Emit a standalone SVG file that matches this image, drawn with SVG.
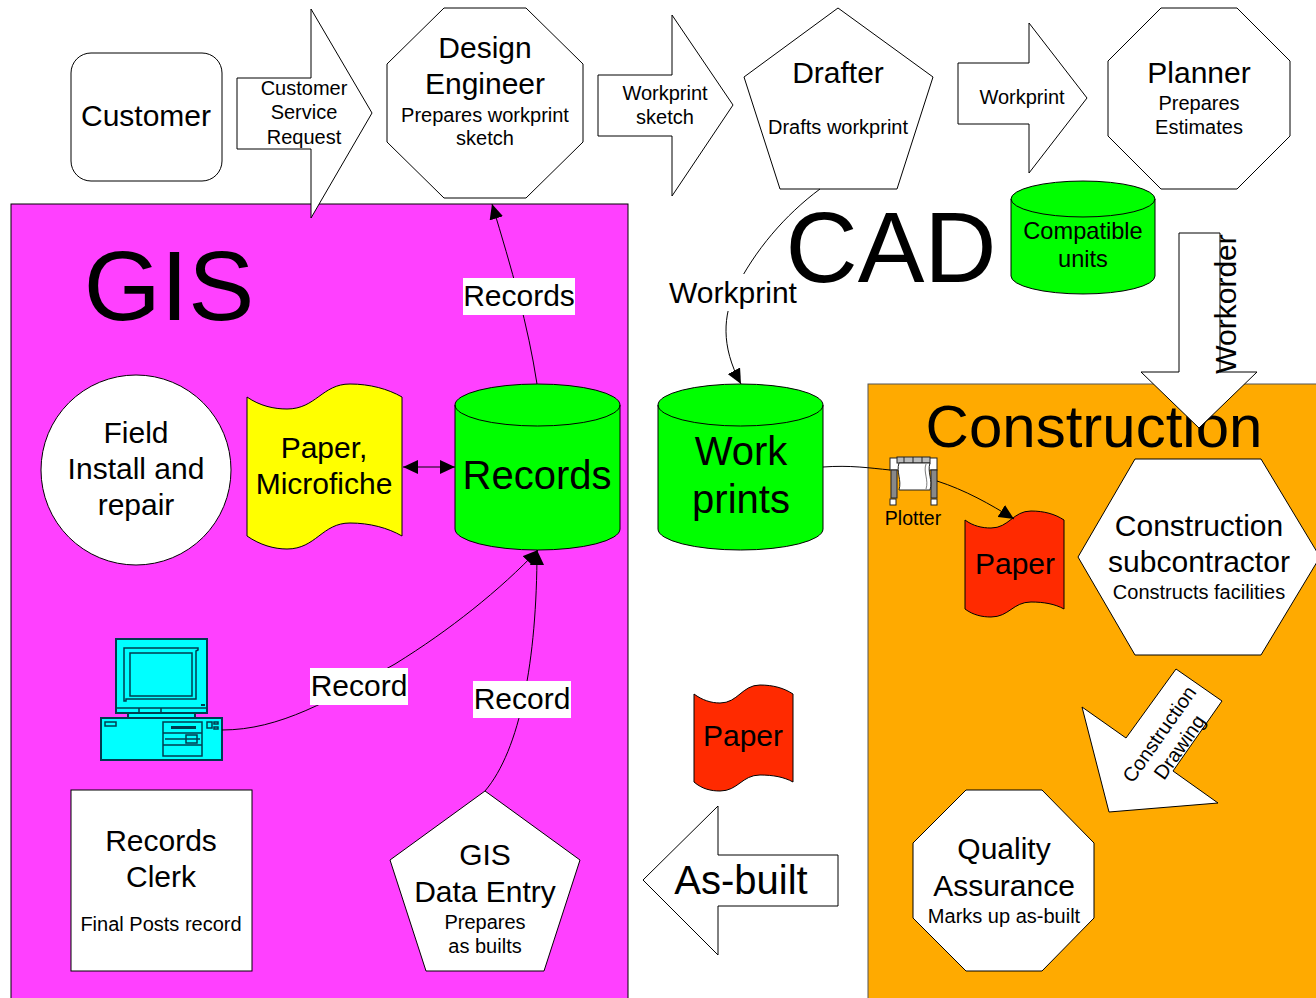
<svg xmlns="http://www.w3.org/2000/svg" width="1316" height="998" viewBox="0 0 1316 998">
<style>
text{font-family:"Liberation Sans",Arial,sans-serif;fill:#000;text-anchor:middle}
.s{stroke:#000;stroke-width:1;stroke-linejoin:miter}
.w{fill:#fff}
.g{fill:#00ff00}
.r{fill:#ff2a00}
.c{fill:none;stroke:#000;stroke-width:1}
.l{fill:#fff;stroke:none}
.t20{font-size:20px}
.t30{font-size:30px}
.p{fill:#00ffff;stroke:#003c50;stroke-width:2}
.q{fill:none;stroke:#003c50;stroke-width:1.5}
.k{stroke:#222;stroke-width:1}
</style>
<defs>
<marker id="a" markerUnits="userSpaceOnUse" markerWidth="16" markerHeight="14" refX="15" refY="7" orient="auto-start-reverse"><path d="M0 0L15 7L0 14Z" fill="#000"/></marker>
</defs>
<rect width="1316" height="998" fill="#fff"/>
<g id="gis-zone"><rect x="11" y="204" width="617" height="800" fill="#ff40ff" stroke="#000"/><text x="169" y="320" font-size="99">GIS</text></g>
<g id="construction-zone"><rect x="868" y="384" width="454" height="620" fill="#ffaa00" stroke="#555"/></g>
<g id="cad-label"><text x="891" y="282" font-size="100">CAD</text></g>
<g id="customer"><rect class="s w" x="71" y="53" width="151" height="128" rx="20"/><text class="t30" x="146" y="126">Customer</text></g>
<g id="customer-service-request"><path class="s w" d="M237 78H311V9L372 113L311 218V149H237Z"/><text class="t20" x="304" y="95">Customer</text><text class="t20" x="304" y="119">Service</text><text class="t20" x="304" y="144">Request</text></g>
<g id="design-engineer"><path class="s w" d="M444 8H526L583 64V142L526 198H444L387 142V64Z"/><text class="t30" x="485" y="58">Design</text><text class="t30" x="485" y="94">Engineer</text><text class="t20" x="485" y="122">Prepares workprint</text><text class="t20" x="485" y="145">sketch</text></g>
<g id="workprint-sketch"><path class="s w" d="M598 75H672V15L733 105L672 196V136H598Z"/><text class="t20" x="665" y="100">Workprint</text><text class="t20" x="665" y="124">sketch</text></g>
<g id="drafter"><path class="s w" d="M838 8L933 77L897 189H780L744 77Z"/><text class="t30" x="838" y="83">Drafter</text><text class="t20" x="838" y="134">Drafts workprint</text></g>
<g id="workprint-arrow"><path class="s w" d="M958 63H1029V23L1087 98L1029 173V124H958Z"/><text class="t20" x="1022" y="104">Workprint</text></g>
<g id="planner"><path class="s w" d="M1161 8H1237L1290 61V136L1237 189H1161L1108 136V61Z"/><text class="t30" x="1199" y="83">Planner</text><text class="t20" x="1199" y="110">Prepares</text><text class="t20" x="1199" y="134">Estimates</text></g>
<g id="compatible-units"><path class="s g" d="M1011 199A72 18 0 0 1 1155 199V276A72 18 0 0 1 1011 276Z"/><path class="s" fill="none" d="M1011 199A72 18 0 0 0 1155 199"/><text font-size="23.6" x="1083" y="239">Compatible</text><text font-size="23.6" x="1083" y="267">units</text></g>
<g id="construction-label"><text x="1094" y="447" font-size="60">Construction</text></g>
<g id="workorder"><path class="s w" d="M1179 233H1220V372H1257L1199 428L1141 372H1179Z"/><text font-size="30" transform="translate(1236 304) rotate(-90)">Workorder</text></g>
<g id="field-install"><circle class="s w" cx="136" cy="470" r="95"/><text class="t30" x="136" y="443">Field</text><text class="t30" x="136" y="479">Install and</text><text class="t30" x="136" y="515">repair</text></g>
<g id="paper-microfiche"><path class="s" fill="#ffff00" d="M247 397C260 406 274 409 287 409C316 409 322 384 350 384C370 384 388 389 402 397V536C388 528 370 523 350 523C322 523 316 549 287 549C274 549 260 545 247 536Z"/><text class="t30" x="324" y="458">Paper,</text><text class="t30" x="324" y="494">Microfiche</text></g>
<g id="records"><path class="s g" d="M455 405A82.5 21 0 0 1 620 405V529A82.5 21 0 0 1 455 529Z"/><path class="s" fill="none" d="M455 405A82.5 21 0 0 0 620 405"/><text x="537" y="489" font-size="40">Records</text></g>
<g id="work-prints"><path class="s g" d="M658 405A82.5 21 0 0 1 823 405V529A82.5 21 0 0 1 658 529Z"/><path class="s" fill="none" d="M658 405A82.5 21 0 0 0 823 405"/><text x="741" y="465" font-size="40">Work</text><text x="741" y="513" font-size="40">prints</text></g>
<g id="plotter">
<rect class="k" x="890" y="458" width="47" height="12" fill="#fff"/>
<rect class="k" x="897" y="457" width="33" height="6" fill="#bbb"/>
<path class="k" d="M904 457V463M913 457V463M922 457V463" fill="none"/>
<rect class="k" x="891" y="470" width="6" height="28" fill="#888"/><rect class="k" x="931" y="470" width="6" height="28" fill="#888"/>
<rect class="k" x="890" y="499" width="6" height="6" fill="#fff"/><rect class="k" x="931" y="499" width="6" height="6" fill="#fff"/>
<path class="k" d="M899 463H930C927 472 933 480 930 490H899C902 480 896 472 899 463Z" fill="#fff"/>
<path class="k" d="M926 464C923 472 929 480 926 489" fill="none" stroke-opacity=".6"/>
<text x="913" y="525" font-size="19.5">Plotter</text></g>
<g id="paper-red"><path class="s r" d="M965 520C973 526 982 528 991 528C1009 528 1013 511 1031 511C1044 511 1055 514 1064 520V609C1055 604 1044 602 1031 602C1013 602 1009 617 991 617C982 617 973 615 965 609Z"/><text class="t30" x="1015" y="574">Paper</text></g>
<g id="construction-sub"><path class="s w" d="M1135 459H1261L1320 557L1261 655H1135L1078 557Z"/><text class="t30" x="1199" y="536">Construction</text><text class="t30" x="1199" y="572">subcontractor</text><text class="t20" x="1199" y="599">Constructs facilities</text></g>
<g id="construction-drawing"><path class="s w" d="M1176 669L1222 701L1173 771L1218 803L1109 812L1082 707L1126 738Z"/><text font-size="20" transform="translate(1165 738) rotate(-55)">Construction</text><text font-size="20" transform="translate(1185 751) rotate(-55)">Drawing</text></g>
<g id="quality-assurance"><path class="s w" d="M966 790H1042L1094 843V918L1042 971H966L913 918V843Z"/><text class="t30" x="1004" y="859">Quality</text><text class="t30" x="1004" y="896">Assurance</text><text class="t20" x="1004" y="923">Marks up as-built</text></g>
<g id="as-built"><path class="s w" d="M838 855V906H718V955L643 880L718 806V855Z"/><text x="741" y="894" font-size="40">As-built</text></g>
<g id="paper-asbuilt"><path class="s r" d="M694 694C702 700 711 703 720 703C738 703 742 685 760 685C773 685 784 688 793 694V782C784 777 773 775 760 775C742 775 738 791 720 791C711 791 702 789 694 782Z"/><text class="t30" x="743" y="746">Paper</text></g>
<g id="computer">
<rect class="p" x="128" y="713" width="67" height="6"/>
<rect class="p" x="116" y="639" width="91" height="74"/>
<path class="q" d="M124 648H198V650L196 651V699H126V701H124Z"/>
<rect class="q" x="130" y="653" width="62" height="43"/>
<path class="q" d="M116 708H207M139 708V713M161 708V713"/>
<rect x="201" y="704" width="4" height="2" fill="#003c50"/>
<rect class="p" x="101" y="718" width="121" height="42"/>
<rect class="q" x="105" y="722" width="11" height="4"/>
<rect class="q" x="163" y="722" width="39" height="34"/>
<path class="q" d="M163 733H202M163 745H202M165 739H200"/>
<rect x="171" y="726" width="25" height="3" fill="#003c50"/>
<rect class="q" x="186" y="735" width="11" height="8"/>
<rect class="q" x="207" y="722" width="5" height="6"/><rect class="q" x="214" y="722" width="4" height="2"/><rect class="q" x="214" y="727" width="4" height="2"/>
</g>
<g id="records-clerk"><rect class="s w" x="71" y="790" width="181" height="181"/><text class="t30" x="161" y="851">Records</text><text class="t30" x="161" y="887">Clerk</text><text class="t20" x="161" y="931">Final Posts record</text></g>
<g id="gis-data-entry"><path class="s w" d="M485 791L580 860L544 971H426L390 860Z"/><text class="t30" x="485" y="865">GIS</text><text class="t30" x="485" y="902">Data Entry</text><text class="t20" x="485" y="929">Prepares</text><text class="t20" x="485" y="953">as builts</text></g>
<g id="connectors">
<path class="c" marker-end="url(#a)" d="M537 384C528 325 512 270 492 204"/>
<path class="c" marker-start="url(#a)" marker-end="url(#a)" d="M403 467H455"/>
<path class="c" marker-end="url(#a)" d="M222 730C280 730 330 700 395 664C450 630 500 590 538 550"/>
<path class="c" marker-end="url(#a)" d="M485 791C520 750 537 660 537 550"/>
<path class="c" marker-end="url(#a)" d="M820 189C785 215 755 250 735 290C724 315 720 345 741 384"/>
<path class="c" d="M823 467C850 465 870 468 890 470"/>
<path class="c" marker-end="url(#a)" d="M937 481C965 490 990 504 1014 519"/>
</g>
<g id="labels">
<rect class="l" x="463" y="278" width="112" height="37"/><text class="t30" x="519" y="306">Records</text>
<rect class="l" x="669" y="274" width="129" height="37"/><text class="t30" x="733" y="303">Workprint</text>
<rect class="l" x="310" y="668" width="98" height="37"/><text class="t30" x="359" y="696">Record</text>
<rect class="l" x="473" y="681" width="98" height="37"/><text class="t30" x="522" y="709">Record</text>
</g>
</svg>
